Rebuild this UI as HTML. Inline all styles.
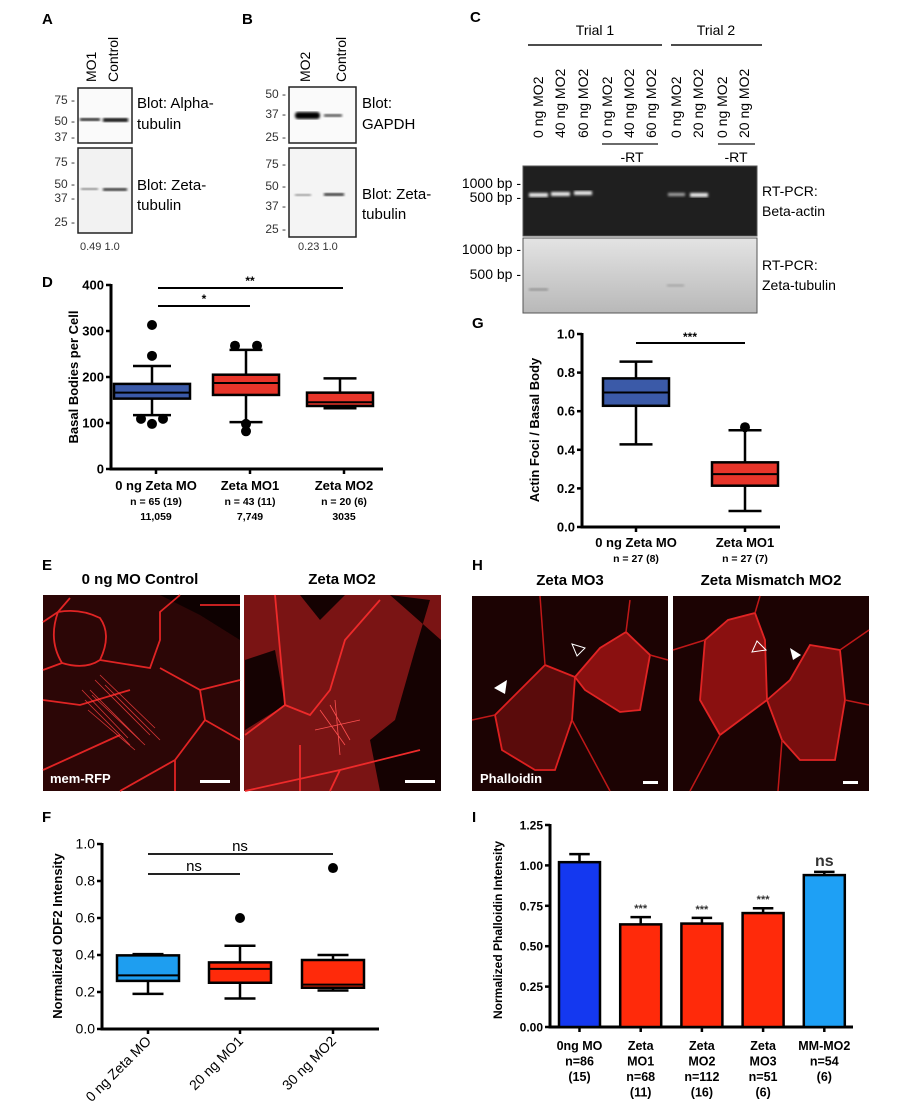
<!DOCTYPE html>
<html><head><meta charset="utf-8"><style>
body{margin:0;background:#fff;}
svg{display:block;font-family:"Liberation Sans",Arial,sans-serif;}
</style></head><body>
<svg id="fig" width="907" height="1120" viewBox="0 0 907 1120" xmlns="http://www.w3.org/2000/svg">
<defs>
<filter id="blur1"><feGaussianBlur stdDeviation="1.2"/></filter>
<linearGradient id="gelLow" x1="0" y1="0" x2="0" y2="1"><stop offset="0" stop-color="#e4e4e4"/><stop offset="1" stop-color="#b8b8b8"/></linearGradient>
</defs>
<g font-weight="bold" font-size="15">
<text x="42" y="24">A</text><text x="242" y="24">B</text><text x="470" y="22">C</text>
<text x="42" y="287">D</text><text x="472" y="328">G</text><text x="42" y="570">E</text>
<text x="472" y="570">H</text><text x="42" y="822">F</text><text x="472" y="822">I</text>
</g>
<g font-size="12">
<text transform="translate(96,82) rotate(-90)" font-size="14">MO1</text>
<text transform="translate(118,82) rotate(-90)" font-size="14">Control</text>
<rect x="78" y="88" width="54" height="55" fill="#fafafa" stroke="#222" stroke-width="1.5"/>
<rect x="80" y="118" width="20" height="3" fill="#222" filter="url(#blur1)"/>
<rect x="103" y="118" width="25" height="4" fill="#111" filter="url(#blur1)"/>
<rect x="78" y="148" width="54" height="85" fill="#f2f2f2" stroke="#222" stroke-width="1.5"/>
<rect x="81" y="188" width="17" height="2" fill="#777" filter="url(#blur1)"/>
<rect x="103" y="188" width="24" height="3" fill="#333" filter="url(#blur1)"/>
<g fill="#333" text-anchor="end"><text x="75" y="104">75 -</text><text x="75" y="125">50 -</text><text x="75" y="141">37 -</text>
<text x="75" y="166">75 -</text><text x="75" y="188">50 -</text><text x="75" y="202">37 -</text><text x="75" y="226">25 -</text></g>
<text x="137" y="108" font-size="15">Blot: Alpha-</text><text x="137" y="129" font-size="15">tubulin</text>
<text x="137" y="190" font-size="15">Blot: Zeta-</text><text x="137" y="210" font-size="15">tubulin</text>
<text x="80" y="250" font-size="11" fill="#333">0.49  1.0</text>
</g>
<g font-size="12">
<text transform="translate(310,82) rotate(-90)" font-size="14">MO2</text>
<text transform="translate(346,82) rotate(-90)" font-size="14">Control</text>
<rect x="289" y="87" width="67" height="56" fill="#fafafa" stroke="#222" stroke-width="1.5"/>
<rect x="295" y="112" width="25" height="7" rx="3" fill="#000" filter="url(#blur1)"/>
<rect x="324" y="114" width="18" height="3" fill="#555" filter="url(#blur1)"/>
<rect x="289" y="148" width="67" height="89" fill="#f4f4f4" stroke="#222" stroke-width="1.5"/>
<rect x="295" y="194" width="16" height="2" fill="#888" filter="url(#blur1)"/>
<rect x="324" y="193" width="20" height="3" fill="#333" filter="url(#blur1)"/>
<g fill="#333" text-anchor="end"><text x="286" y="98">50 -</text><text x="286" y="118">37 -</text><text x="286" y="141">25 -</text>
<text x="286" y="168">75 -</text><text x="286" y="190">50 -</text><text x="286" y="210">37 -</text><text x="286" y="233">25 -</text></g>
<text x="362" y="108" font-size="15">Blot:</text><text x="362" y="129" font-size="15">GAPDH</text>
<text x="362" y="199" font-size="15">Blot: Zeta-</text><text x="362" y="219" font-size="15">tubulin</text>
<text x="298" y="250" font-size="11" fill="#333">0.23  1.0</text>
</g>
<g font-size="13">
<text x="595" y="35" text-anchor="middle" font-size="14">Trial 1</text>
<text x="716" y="35" text-anchor="middle" font-size="14">Trial 2</text>
<line x1="528" y1="45" x2="662" y2="45" stroke="#111" stroke-width="1.5"/>
<line x1="671" y1="45" x2="762" y2="45" stroke="#111" stroke-width="1.5"/>
<g id="laneLabels"></g>
<line x1="602" y1="144" x2="658" y2="144" stroke="#111" stroke-width="1.2"/>
<line x1="718" y1="144" x2="755" y2="144" stroke="#111" stroke-width="1.2"/>
<text x="632" y="162" text-anchor="middle" font-size="14">-RT</text>
<text x="736" y="162" text-anchor="middle" font-size="14">-RT</text>
<rect x="523" y="166" width="234" height="70" fill="#1f1f1f" stroke="#555"/>
<rect x="523" y="238" width="234" height="75" fill="url(#gelLow)" stroke="#555"/>
<g fill="#eee" filter="url(#blur1)">
<rect x="529" y="193" width="19" height="4"/><rect x="551" y="192" width="19" height="4"/><rect x="574" y="191" width="18" height="4"/>
<rect x="668" y="193" width="17" height="3" fill="#aaa"/><rect x="690" y="193" width="18" height="4"/></g>
<rect x="529" y="288" width="19" height="3" fill="#999" filter="url(#blur1)"/>
<rect x="667" y="284" width="17" height="3" fill="#aaa" filter="url(#blur1)"/>
<g text-anchor="end" font-size="14"><text x="521" y="188">1000 bp -</text><text x="521" y="202">500 bp -</text>
<text x="521" y="254">1000 bp -</text><text x="521" y="279">500 bp -</text></g>
<g font-size="14"><text x="762" y="196">RT-PCR:</text><text x="762" y="216">Beta-actin</text>
<text x="762" y="270">RT-PCR:</text><text x="762" y="290">Zeta-tubulin</text></g>
</g>
<g>
<rect x="43" y="595" width="197" height="196" fill="#2c0606"/>
<path d="M160,595 L240,595 L240,640 L200,615 Z" fill="#0e0101"/>
<g fill="none" stroke="#e02424" stroke-width="1.8">
<path d="M43,622 L58,612 L70,598 M58,612 Q48,640 62,663 Q85,670 100,660 Q112,635 100,618 Q80,608 58,612 M62,663 L43,670 M100,660 L150,668 L160,640 L160,612 L180,595 M160,668 L200,690 L205,720 L175,760 L175,791 M200,690 L240,680 M205,720 L240,740 M43,700 L80,705 L130,690 M120,735 L43,770 M175,760 L120,791 M200,605 L240,605"/>
</g>
<g stroke="#ff4040" stroke-width="0.8" opacity="0.8">
<path d="M90,690 L140,740 M95,680 L150,735 M85,700 L130,745 M100,675 L155,728 M92,695 L145,745 M88,710 L135,750 M105,685 L160,740 M82,690 L128,738"/>
</g>
<text x="50" y="783" fill="#fff" font-size="13" font-weight="bold">mem-RFP</text>
<rect x="200" y="780" width="30" height="3" fill="#fff"/>
</g>
<g>
<rect x="244" y="595" width="197" height="196" fill="#7a1414"/>
<path d="M390,595 L430,600 L415,650 L395,720 L370,740 L380,791 L441,791 L441,640 Z" fill="#150202"/>
<path d="M245,660 L275,650 L285,705 L245,730 Z" fill="#150202"/>
<path d="M300,595 L345,595 L320,620 Z" fill="#150202"/>
<g fill="none" stroke="#ee2a2a" stroke-width="1.8">
<path d="M275,595 L285,705 M285,705 L310,715 L330,690 L345,640 L380,600 M285,705 L245,735 M340,770 L420,750 M340,770 L330,791 M340,770 L245,791 M300,745 L300,791"/>
</g>
<g stroke="#ff5050" stroke-width="0.8"><path d="M320,710 L345,745 M330,705 L350,740 M315,730 L360,720 M335,700 L340,755"/></g>
<rect x="405" y="780" width="30" height="3" fill="#fff"/>
</g>
<text x="140" y="584" text-anchor="middle" font-size="15" font-weight="bold">0 ng MO Control</text>
<text x="342" y="584" text-anchor="middle" font-size="15" font-weight="bold">Zeta MO2</text>
<g>
<rect x="472" y="596" width="196" height="195" fill="#1c0303"/>
<path d="M545,665 L575,677 L572,720 L555,770 L535,770 L502,750 L495,715 Z" fill="#5a0b0b" stroke="#dd2020" stroke-width="1.8"/>
<path d="M575,677 L600,648 L626,632 L650,655 L640,710 L620,712 L585,690 Z" fill="#8a1010" stroke="#e02424" stroke-width="1.8"/>
<g fill="none" stroke="#c01818" stroke-width="1.5"><path d="M540,596 L545,665 M626,632 L630,600 M650,655 L668,660 M572,720 L610,791 M495,715 L472,720"/></g>
<polygon points="494,688 507,680 505,694" fill="#fff"/>
<polygon points="572,644 585,648 577,656" fill="none" stroke="#fff"/>
<text x="480" y="783" fill="#fff" font-size="13" font-weight="bold">Phalloidin</text>
<rect x="643" y="781" width="15" height="3" fill="#fff"/>
</g>
<g>
<rect x="673" y="596" width="196" height="195" fill="#1c0303"/>
<path d="M705,640 L728,620 L755,613 L765,640 L767,700 L720,735 L700,700 Z" fill="#8a1010" stroke="#e02424" stroke-width="1.8"/>
<path d="M767,700 L790,680 L810,645 L840,650 L845,700 L835,760 L800,760 L782,740 Z" fill="#7a0e0e" stroke="#e02424" stroke-width="1.8"/>
<g fill="none" stroke="#c01818" stroke-width="1.5"><path d="M755,613 L760,596 M705,640 L673,650 M720,735 L690,791 M782,740 L778,791 M840,650 L869,630 M845,700 L869,705"/></g>
<polygon points="766,650 757,641 752,652" fill="none" stroke="#fff"/>
<polygon points="801,655 790,648 793,660" fill="#fff"/>
<rect x="843" y="781" width="15" height="3" fill="#fff"/>
</g>
<text x="570" y="585" text-anchor="middle" font-size="15" font-weight="bold">Zeta MO3</text>
<text x="771" y="585" text-anchor="middle" font-size="15" font-weight="bold">Zeta Mismatch MO2</text>

<g id="chartD"></g>
<g id="chartG"></g>
<g id="chartF"></g>
<g id="chartI"></g>
</svg>
<script>
const NS="http://www.w3.org/2000/svg";
const laneNames=["0 ng MO2","40 ng MO2","60 ng MO2","0 ng MO2","40 ng MO2","60 ng MO2","0 ng MO2","20 ng MO2","0 ng MO2","20 ng MO2"];
const laneXs=[543,565,588,612,634,656,681,703,727,749];
const dCats=["0 ng Zeta MO","Zeta MO1","Zeta MO2"];
const dN=["n = 65 (19)","n = 43 (11)","n = 20 (6)"];
const dTotals=["11,059","7,749","3035"];
const dLow=[117,102,132];
const dQ1=[153,161,137];
const dMed=[166,187,145];
const dQ3=[185,205,166];
const dHigh=[224,259,197];
const dOutliers=[[313,246,109,109,98],[268,268,98,82],[]];
const dTicks=[0,100,200,300,400];
const gCats=["0 ng Zeta MO","Zeta MO1"];
const gN=["n = 27 (8)","n = 27 (7)"];
const gLow=[0.428,0.083];
const gQ1=[0.628,0.214];
const gMed=[0.697,0.274];
const gQ3=[0.77,0.335];
const gHigh=[0.857,0.501];
const gOutliers=[[],[0.517]];
const gTicks=[0,0.2,0.4,0.6,0.8,1.0];
const fCats=["0 ng Zeta MO","20 ng MO1","30 ng MO2"];
const fLow=[0.19,0.165,0.208];
const fQ1=[0.26,0.25,0.223];
const fMed=[0.29,0.325,0.24];
const fQ3=[0.398,0.36,0.373];
const fHigh=[0.405,0.45,0.40];
const fOutliers=[[],[0.6],[0.87]];
const fTicks=[0,0.2,0.4,0.6,0.8,1.0];
const iCats=[["0ng MO","n=86","(15)"],["Zeta","MO1","n=68","(11)"],["Zeta","MO2","n=112","(16)"],["Zeta","MO3","n=51","(6)"],["MM-MO2","n=54","(6)"]];
const iValues=[1.02,0.635,0.64,0.705,0.94];
const iErr=[0.05,0.045,0.035,0.03,0.02];
const iSig=["","***","***","***","ns"];
const iTicks=["0.00","0.25","0.50","0.75","1.00","1.25"];

function mk(parent,tag,attrs,text){const e=document.createElementNS(NS,tag);for(const k in attrs)e.setAttribute(k,attrs[k]);if(text!==undefined)e.textContent=text;parent.appendChild(e);return e;}

const ll=document.getElementById('laneLabels');
laneNames.forEach((n,i)=>{const t=mk(ll,'text',{transform:`translate(${laneXs[i]},138) rotate(-90)`,'font-size':'14'},n);

});

function axis(g,x0,x1,yTop,yBot,vmax,ticks,fmt,fs){
  const y=v=>yBot-(v/vmax)*(yBot-yTop);
  mk(g,'line',{x1:x0,y1:yTop-1,x2:x0,y2:yBot+1.5,stroke:'#000','stroke-width':3});
  mk(g,'line',{x1:x0-1.5,y1:yBot,x2:x1,y2:yBot,stroke:'#000','stroke-width':3});
  ticks.forEach(t=>{const v=parseFloat(t);mk(g,'line',{x1:x0-5,y1:y(v),x2:x0,y2:y(v),stroke:'#000','stroke-width':2.5});
    const tl=mk(g,'text',{x:x0-7,y:y(v)+4.5,'text-anchor':'end','font-size':fs,'font-weight':'bold'},fmt(t));
    
    });
  return y;
}
function box(g,cx,w,lo,q1,md,q3,hi,outs,y,fill,name){
  const b=mk(g,'g',{});
  
  
  mk(b,'line',{x1:cx,y1:y(hi),x2:cx,y2:y(lo),stroke:'#000','stroke-width':2.5});
  mk(b,'line',{x1:cx-w/4,y1:y(hi),x2:cx+w/4,y2:y(hi),stroke:'#000','stroke-width':2.5});
  mk(b,'line',{x1:cx-w/4,y1:y(lo),x2:cx+w/4,y2:y(lo),stroke:'#000','stroke-width':2.5});
  mk(b,'rect',{x:cx-w/2,y:y(q3),width:w,height:y(q1)-y(q3),fill:fill,stroke:'#000','stroke-width':2.5});
  mk(b,'line',{x1:cx-w/2,y1:y(md),x2:cx+w/2,y2:y(md),stroke:'#000','stroke-width':2});
  const seen={};
  outs.forEach(o=>{seen[o]=(seen[o]||0)+1;const n=outs.filter(v=>v===o).length;const off=n>1?(seen[o]-1.5)*22:0;
    const c=mk(b,'circle',{cx:cx+off,cy:y(o),r:5,fill:'#000'});
    
    });
}
(function(){const g=document.getElementById('chartD');
 const y=axis(g,111,383,285,469,400,dTicks,t=>String(t),13);
 const xs=[152,246,340];
 dCats.forEach((c,i)=>{box(g,xs[i],i==0?76:66,dLow[i],dQ1[i],dMed[i],dQ3[i],dHigh[i],dOutliers[i],y,i==0?'#3b5aa8':'#e8352a','box-'+i);
  mk(g,'line',{x1:xs[i]+4,y1:469,x2:xs[i]+4,y2:474,stroke:'#000','stroke-width':2.5});
  mk(g,'text',{x:xs[i]+4,y:490,'text-anchor':'middle','font-size':13,'font-weight':'bold'},c);
  mk(g,'text',{x:xs[i]+4,y:505,'text-anchor':'middle','font-size':10.5,'font-weight':'bold'},dN[i]);
  mk(g,'text',{x:xs[i]+4,y:520,'text-anchor':'middle','font-size':10.5,'font-weight':'bold'},dTotals[i]);});
 mk(g,'line',{x1:158,y1:288,x2:343,y2:288,stroke:'#000','stroke-width':2});
 mk(g,'text',{x:250,y:285,'text-anchor':'middle','font-size':12,'font-weight':'bold'},'**');
 mk(g,'line',{x1:158,y1:306,x2:250,y2:306,stroke:'#000','stroke-width':2});
 mk(g,'text',{x:204,y:303,'text-anchor':'middle','font-size':12,'font-weight':'bold'},'*');
 const t=mk(g,'text',{transform:'translate(78,377) rotate(-90)','text-anchor':'middle','font-size':13,'font-weight':'bold'},'Basal Bodies per Cell');
 
 
})();
(function(){const g=document.getElementById('chartG');
 const y=axis(g,582,780,334,527,1,gTicks,t=>t.toFixed(1),13);
 const xs=[636,745];
 gCats.forEach((c,i)=>{box(g,xs[i],66,gLow[i],gQ1[i],gMed[i],gQ3[i],gHigh[i],gOutliers[i],y,i==0?'#3b5aa8':'#e8352a','box-'+i);
  mk(g,'line',{x1:xs[i],y1:527,x2:xs[i],y2:532,stroke:'#000','stroke-width':2.5});
  mk(g,'text',{x:xs[i],y:547,'text-anchor':'middle','font-size':13,'font-weight':'bold'},c);
  mk(g,'text',{x:xs[i],y:562,'text-anchor':'middle','font-size':10.5,'font-weight':'bold'},gN[i]);});
 mk(g,'line',{x1:636,y1:343,x2:745,y2:343,stroke:'#000','stroke-width':2});
 mk(g,'text',{x:690,y:341,'text-anchor':'middle','font-size':12,'font-weight':'bold'},'***');
 const t=mk(g,'text',{transform:'translate(539,430) rotate(-90)','text-anchor':'middle','font-size':13,'font-weight':'bold'},'Actin Foci / Basal Body');
 
 
})();
(function(){const g=document.getElementById('chartF');
 const y=axis(g,102,379,844,1029,1,fTicks,t=>t.toFixed(1),14);
 g.querySelectorAll('text').forEach(t=>t.setAttribute('font-weight','normal'));
 const xs=[148,240,333];
 fCats.forEach((c,i)=>{box(g,xs[i],62,fLow[i],fQ1[i],fMed[i],fQ3[i],fHigh[i],fOutliers[i],y,i==0?'#1e9ef0':'#ff2a0a','box-'+i);
  mk(g,'line',{x1:xs[i],y1:1029,x2:xs[i],y2:1034,stroke:'#000','stroke-width':2.5});
  mk(g,'text',{transform:`translate(${xs[i]+4},1042) rotate(-45)`,'text-anchor':'end','font-size':14},c);});
 mk(g,'line',{x1:148,y1:854,x2:333,y2:854,stroke:'#222','stroke-width':2});
 mk(g,'text',{x:240,y:851,'text-anchor':'middle','font-size':15},'ns');
 mk(g,'line',{x1:148,y1:874,x2:240,y2:874,stroke:'#222','stroke-width':2});
 mk(g,'text',{x:194,y:871,'text-anchor':'middle','font-size':15},'ns');
 const t=mk(g,'text',{transform:'translate(62,936) rotate(-90)','text-anchor':'middle','font-size':13,'font-weight':'bold'},'Normalized ODF2 Intensity');
 
 
})();
(function(){const g=document.getElementById('chartI');
 const y=axis(g,550,853,825,1027,1.25,iTicks,t=>t,12);
 const x0=579.5, dx=61.2, w=41;
 iValues.forEach((v,i)=>{const cx=x0+i*dx;
  const b=mk(g,'rect',{x:cx-w/2,y:y(v),width:w,height:1027-y(v),fill:i==0?'#1438f0':(i==4?'#1ea0f5':'#ff2a0a'),stroke:'#000','stroke-width':2.5});
  
  
  mk(g,'line',{x1:cx,y1:y(v),x2:cx,y2:y(v+iErr[i]),stroke:'#000','stroke-width':2.5});
  mk(g,'line',{x1:cx-w/4,y1:y(v+iErr[i]),x2:cx+w/4,y2:y(v+iErr[i]),stroke:'#000','stroke-width':2.5});
  if(iSig[i]) mk(g,'text',{x:cx,y:y(v+iErr[i])-(iSig[i]=='ns'?6:5),'text-anchor':'middle','font-size':iSig[i]=='ns'?16:11,'font-weight':'bold','fill':'#333'},iSig[i]);
  mk(g,'line',{x1:cx,y1:1027,x2:cx,y2:1032,stroke:'#000','stroke-width':2.5});
  iCats[i].forEach((s,j)=>mk(g,'text',{x:cx,y:1050+j*15.5,'text-anchor':'middle','font-size':12.5,'font-weight':'bold'},s));
 });
 const t=mk(g,'text',{transform:'translate(502,930) rotate(-90)','text-anchor':'middle','font-size':12,'font-weight':'bold'},'Normalized Phalloidin Intensity');
 
 
})();
</script>
</body></html>
